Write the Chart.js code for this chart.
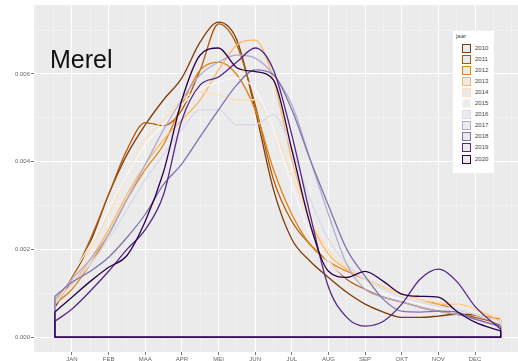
<!DOCTYPE html>
<html><head><meta charset="utf-8">
<script src="https://cdn.jsdelivr.net/npm/chart.js@4"></script>
<style>
html,body{margin:0;padding:0;background:#fff;overflow:hidden;width:518px;height:361px;}
#wrap{position:relative;width:518px;height:368px;}
canvas{position:absolute;left:0;top:0;}
#title{position:absolute;left:50px;top:47px;font-family:"Liberation Sans",Arial,sans-serif;font-size:25px;line-height:25px;color:#111;}
#legend{position:absolute;left:453px;top:31px;width:41px;height:142px;background:#fff;font-family:"Liberation Sans",Arial,sans-serif;font-size:6px;color:#444;}
#legend .lt{position:absolute;left:3px;top:2px;line-height:7px;}
#legend .row{position:absolute;left:0;height:9px;width:41px;}
#legend .key{position:absolute;left:9px;top:0;width:9px;height:9px;box-sizing:border-box;border:1.5px solid;background:#ebebeb;}
#legend .lab{position:absolute;left:22px;top:0;line-height:9px;}
</style></head>
<body>
<div id="wrap">
<canvas id="c" width="518" height="368"></canvas>
<div id="title">Merel</div>
<div id="legend"></div>
</div>
<script>
// ---- data ----
const years = ['2010','2011','2012','2013','2014','2015','2016','2017','2018','2019','2020'];
const colors = ['#7f3b08','#b35806','#e08214','#fdb863','#fee0b6','#f7f7f7','#d8daeb','#b2abd2','#8073ac','#542788','#2d004b'];
const months = ['JAN','FEB','MAA','APR','MEI','JUN','JUL','AUG','SEP','OKT','NOV','DEC'];
const monthTickDays = [15,45,75,105,135,165,195,225,255,285,315,345];
const yTicks = [0,0.001,0.002,0.003,0.004,0.005,0.006,0.007];
const days = [1,15,30,45,60,75,90,105,120,135,150,165,180,195,210,225,240,255,270,285,300,315,330,345,366];

const d2010 = [0.00068,0.00132,0.00216,0.00325,0.00416,0.00484,0.00541,0.00591,0.00673,0.00718,0.00677,0.00518,0.00336,0.00223,0.00173,0.00136,0.00102,0.00075,0.00057,0.00045,0.00045,0.00048,0.00052,0.00050,0.00027];
const d2011 = [0.00075,0.00136,0.00223,0.00325,0.00427,0.00489,0.00482,0.00518,0.00609,0.00714,0.00666,0.00530,0.00359,0.00264,0.00211,0.00173,0.00132,0.00109,0.00091,0.00080,0.00068,0.00059,0.00052,0.00045,0.00030];
const d2012 = [0.00075,0.00109,0.00166,0.00234,0.00314,0.00382,0.00439,0.00530,0.00609,0.00627,0.00598,0.00518,0.00382,0.00280,0.00211,0.00173,0.00150,0.00132,0.00114,0.00098,0.00086,0.00075,0.00064,0.00052,0.00041];
const d2013 = [0.00086,0.00120,0.00177,0.00245,0.00325,0.00393,0.00450,0.00495,0.00541,0.00609,0.00666,0.00677,0.00586,0.00405,0.00268,0.00189,0.00155,0.00132,0.00114,0.00098,0.00086,0.00075,0.00075,0.00064,0.00036];
const d2014 = [0.00075,0.00132,0.00200,0.00280,0.00370,0.00450,0.00495,0.00541,0.00559,0.00552,0.00541,0.00541,0.00473,0.00370,0.00268,0.00200,0.00159,0.00132,0.00114,0.00098,0.00086,0.00080,0.00075,0.00064,0.00045];
const d2015 = [0.00086,0.00143,0.00211,0.00291,0.00370,0.00439,0.00484,0.00530,0.00564,0.00582,0.00591,0.00564,0.00473,0.00348,0.00234,0.00173,0.00136,0.00114,0.00098,0.00086,0.00075,0.00068,0.00064,0.00052,0.00030];
const d2016 = [0.00075,0.00120,0.00166,0.00223,0.00291,0.00359,0.00416,0.00473,0.00518,0.00518,0.00484,0.00484,0.00507,0.00427,0.00314,0.00223,0.00166,0.00132,0.00109,0.00091,0.00080,0.00070,0.00064,0.00052,0.00036];
const d2017 = [0.00086,0.00132,0.00177,0.00234,0.00314,0.00393,0.00473,0.00541,0.00598,0.00627,0.00643,0.00636,0.00598,0.00530,0.00405,0.00280,0.00166,0.00109,0.00091,0.00080,0.00068,0.00059,0.00052,0.00041,0.00023];
const d2018 = [0.00093,0.00125,0.00150,0.00182,0.00227,0.00280,0.00348,0.00395,0.00457,0.00518,0.00575,0.00609,0.00598,0.00518,0.00405,0.00300,0.00200,0.00139,0.00086,0.00059,0.00057,0.00059,0.00057,0.00041,0.00025];
const d2019 = [0.00036,0.00064,0.00105,0.00150,0.00200,0.00245,0.00325,0.00495,0.00575,0.00593,0.00627,0.00659,0.00609,0.00461,0.00279,0.00114,0.00045,0.00025,0.00036,0.00075,0.00132,0.00155,0.00127,0.00070,0.00018];
const d2020 = [0.00057,0.00091,0.00127,0.00159,0.00186,0.00264,0.00377,0.00541,0.00643,0.00659,0.00614,0.00605,0.00586,0.00427,0.00257,0.00150,0.00136,0.00150,0.00127,0.00098,0.00093,0.00091,0.00059,0.00034,0.00014];
const series = [d2010,d2011,d2012,d2013,d2014,d2015,d2016,d2017,d2018,d2019,d2020];

// ---- datasets (2020 first so it is drawn on top) ----
const datasets = [];
for (let i = years.length - 1; i >= 0; i--) {
  const v = series[i];
  const first = days[0], last = days[days.length - 1];
  datasets.push({
    label: years[i],
    data: days.map((d, j) => ({x: d, y: v[j]})),
    borderColor: colors[i], borderWidth: 1.3, pointRadius: 0,
    cubicInterpolationMode: 'monotone', fill: false
  });
  datasets.push({
    label: years[i] + ' outline',
    data: [{x: first, y: v[0]}, {x: first, y: 0}, {x: last, y: 0}, {x: last, y: v[v.length - 1]}],
    borderColor: colors[i], borderWidth: 1.3, pointRadius: 0, tension: 0, fill: false
  });
}

const isMajorX = v => monthTickDays.indexOf(v) >= 0;
const isMajorY = v => Math.round(v * 1000) % 2 === 0;
const gridDays = [];
for (let d = -15; d <= 375; d += 15) gridDays.push(d);

const panelBg = {
  id: 'panelBg',
  beforeDraw(chart) {
    const a = chart.chartArea, ctx = chart.ctx;
    ctx.save(); ctx.fillStyle = '#ebebeb';
    ctx.fillRect(a.left, a.top, a.right - a.left, a.bottom - a.top);
    ctx.restore();
  }
};

new Chart(document.getElementById('c'), {
  type: 'line',
  data: {datasets},
  plugins: [panelBg],
  options: {
    responsive: false, animation: false, devicePixelRatio: 1,
    layout: {padding: {top: 5, left: 0, right: 0, bottom: 0}},
    plugins: {legend: {display: false}, tooltip: {enabled: false}},
    scales: {
      x: {
        type: 'linear', min: -16.1, max: 380.2,
        afterBuildTicks: s => { s.ticks = gridDays.map(v => ({value: v})); },
        afterFit: s => { s.height = 16; },
        border: {display: false},
        grid: {
          color: c => (c.tick && isMajorX(c.tick.value)) ? '#ffffff' : 'rgba(255,255,255,0.55)',
          lineWidth: c => (c.tick && isMajorX(c.tick.value)) ? 1 : 0.6,
          tickColor: c => (c.tick && isMajorX(c.tick.value)) ? '#777' : 'rgba(0,0,0,0)',
          tickLength: 3
        },
        ticks: {
          autoSkip: false, maxRotation: 0, padding: 1,
          font: {family: 'Liberation Sans', size: 6}, color: '#666',
          callback: v => { const k = monthTickDays.indexOf(v); return k >= 0 ? months[k] : ''; }
        }
      },
      y: {
        type: 'linear', min: -0.00034, max: 0.00757,
        afterBuildTicks: s => { s.ticks = yTicks.map(v => ({value: v})); },
        afterFit: s => { s.width = 34; },
        border: {display: false},
        grid: {
          color: c => (c.tick && isMajorY(c.tick.value)) ? '#ffffff' : 'rgba(255,255,255,0.55)',
          lineWidth: c => (c.tick && isMajorY(c.tick.value)) ? 1 : 0.6,
          tickColor: c => (c.tick && isMajorY(c.tick.value)) ? '#777' : 'rgba(0,0,0,0)',
          tickLength: 3
        },
        ticks: {
          padding: 1, font: {family: 'Liberation Sans', size: 6}, color: '#666',
          callback: v => isMajorY(v) ? v.toFixed(3) : ''
        }
      }
    }
  }
});

// ---- legend ----
const lg = document.getElementById('legend');
let html = '<div class="lt">jaar</div>';
years.forEach((y, i) => {
  html += '<div class="row" style="top:' + (12.5 + i * 11.1).toFixed(1) + 'px"><span class="key" style="border-color:' + colors[i] + '"></span><span class="lab">' + y + '</span></div>';
});
lg.innerHTML = html;
</script>
</body></html>
